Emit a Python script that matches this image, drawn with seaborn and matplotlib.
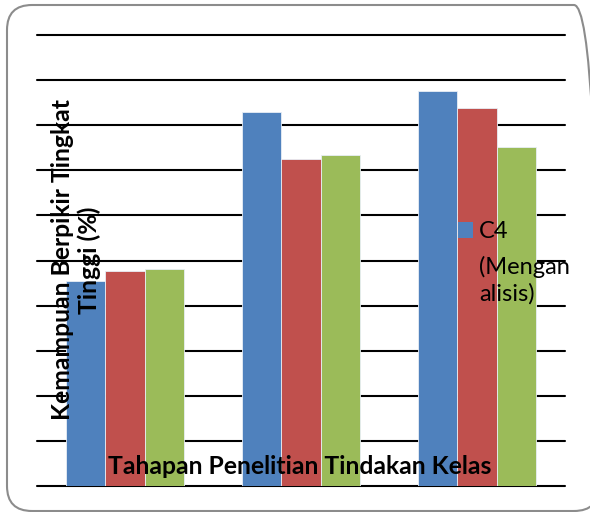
import matplotlib
matplotlib.use("Agg")
import matplotlib.pyplot as plt
import seaborn as sns
import pandas as pd
from matplotlib.patches import FancyBboxPatch, Patch

stages = ["Pra Siklus", "Siklus I", "Siklus II"]
series = ["C4 (Menganalisis)", "C5 (Mengevaluasi)", "C6 (Mencipta)"]
c4_values = [45.5, 82.9, 87.6]
c5_values = [47.7, 72.5, 83.8]
c6_values = [48.2, 73.5, 75.2]
colors = ["#4F81BD", "#C0504D", "#9BBB59"]

rows = []
for s, vals in zip(series, [c4_values, c5_values, c6_values]):
    for st, v in zip(stages, vals):
        rows.append({"Tahapan": st, "Kategori": s, "Nilai": v})
df = pd.DataFrame(rows)

sns.set_style("white")
plt.rcParams['font.family'] = ['Lato', 'DejaVu Sans']
plt.rcParams['text.color'] = 'black'

fig = plt.figure(figsize=(5.9, 5.12), dpi=100)
ax = fig.add_axes([37/590, 26/512, 528/590, 451/512])

sns.barplot(data=df, x="Tahapan", y="Nilai", hue="Kategori", order=stages,
            hue_order=series, palette=colors, width=0.665, ax=ax,
            edgecolor="#e8eef6", linewidth=0.6, legend=False, saturation=1)

ax.set_ylim(0, 100)
ax.set_xlim(-0.5, 2.5)
ax.set_yticks(range(0, 101, 10))
ax.set_yticklabels([])
ax.set_xticks([])
ax.tick_params(length=0)
for sp in ax.spines.values():
    sp.set_visible(False)
ax.yaxis.grid(True, color="black", linewidth=1.5)
for gl in ax.get_ygridlines():
    gl.set_clip_on(False)
ax.set_axisbelow(True)
ax.set_xlabel("")
ax.set_ylabel("")

# axis titles drawn on top of the bars, as in the reference
ax.text(0.498, (486 - 474.5) / 451, "Tahapan Penelitian Tindakan Kelas",
        transform=ax.transAxes, ha="center", va="baseline",
        fontsize=17.8, fontweight="bold", color="black", zorder=10)
ax.text((76 - 37) / 528, (486 - 260) / 451, "Kemampuan Berpikir Tingkat\nTinggi (%)",
        transform=ax.transAxes, ha="center", va="center", rotation=90,
        rotation_mode="anchor", multialignment="center",
        fontsize=17.8, fontweight="bold", color="black", zorder=10, linespacing=1.15)

# legend (only the first entry is visible in the reference)
handle = Patch(facecolor=colors[0], edgecolor="none")
leg = ax.legend([handle], ["C4"], loc="upper left",
                bbox_to_anchor=((458 - 37) / 528, (486 - 221) / 451), frameon=False,
                fontsize=17, handlelength=0.64, handleheight=0.64, handletextpad=0.25,
                borderaxespad=0, borderpad=0)
for t in leg.get_texts():
    t.set_color("black")
ax.text((479 - 37) / 528, (486 - 274) / 451, "(Mengan", transform=ax.transAxes,
        ha="left", va="baseline", fontsize=17, color="black", zorder=10)
ax.text((479 - 37) / 528, (486 - 301) / 451, "alisis)", transform=ax.transAxes,
        ha="left", va="baseline", fontsize=17, color="black", zorder=10)

border = FancyBboxPatch((0.07, 0.01), 5.92, 5.06,
                        boxstyle="round,pad=0,rounding_size=0.25",
                        transform=fig.dpi_scale_trans, facecolor="none",
                        edgecolor="#8c8c8c", linewidth=1.5, clip_on=False)
fig.patches.append(border)

fig.savefig("out.png", dpi=100)
